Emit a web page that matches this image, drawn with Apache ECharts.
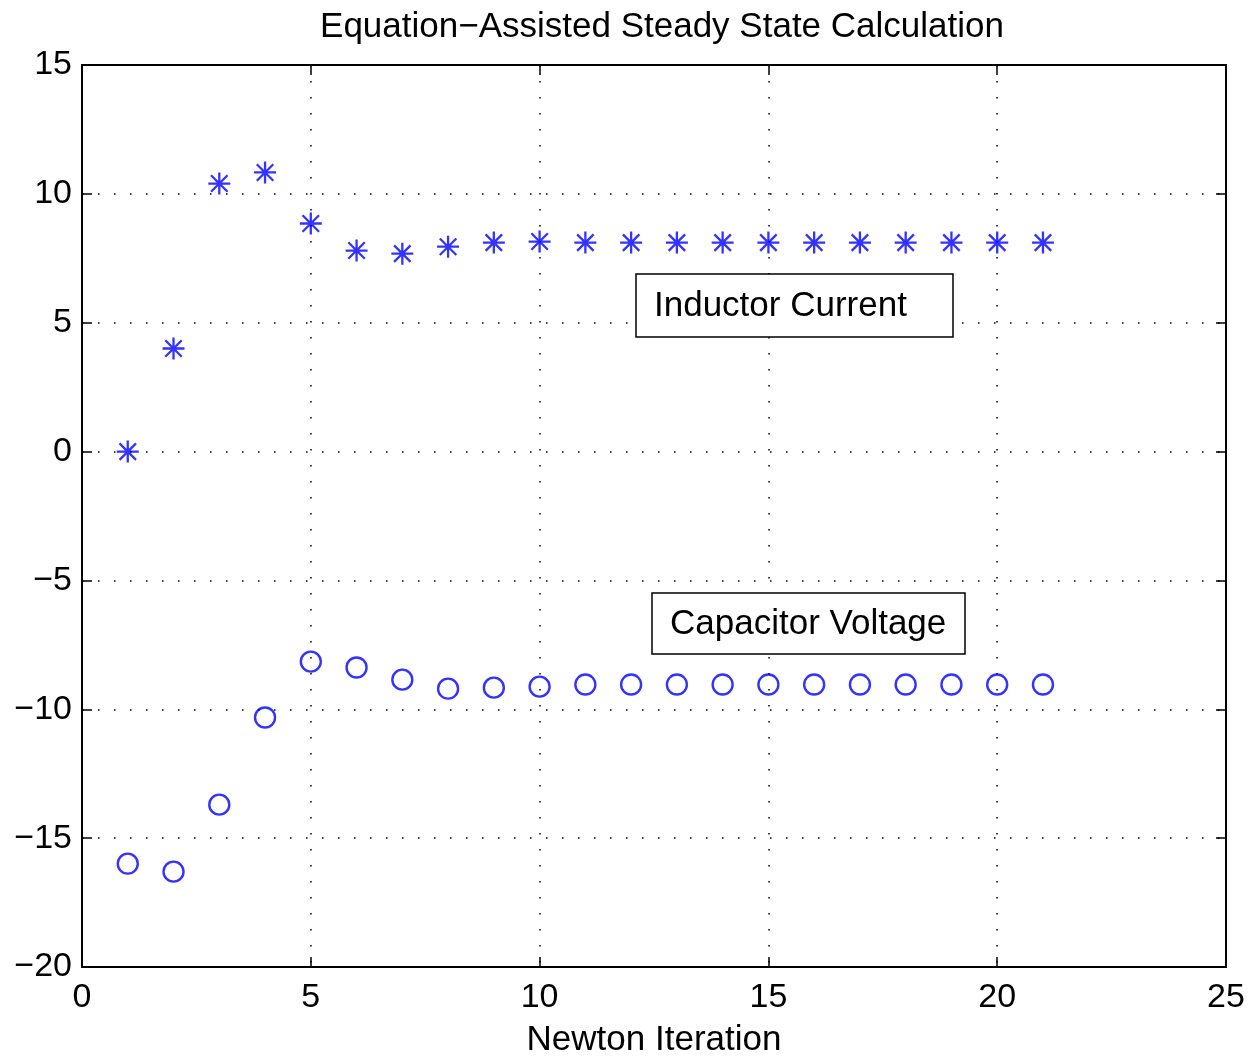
<!DOCTYPE html>
<html>
<head>
<meta charset="utf-8">
<script src="https://cdn.jsdelivr.net/npm/echarts@6/dist/echarts.min.js"></script>
<style>
html,body{margin:0;padding:0;background:#fff;overflow:hidden;}
#chart{width:1250px;height:1057px;}
</style>
</head>
<body>
<div id="chart"></div>
<script>
const iterations = [1,2,3,4,5,6,7,8,9,10,11,12,13,14,15,16,17,18,19,20,21];
const inductorCurrent = [0, 4.0, 10.4, 10.83, 8.85, 7.8, 7.68, 7.95, 8.11, 8.15, 8.11, 8.11, 8.11, 8.11, 8.11, 8.11, 8.11, 8.11, 8.11, 8.11, 8.11];
const capacitorVoltage = [-15.99, -16.3, -13.7, -10.32, -8.15, -8.38, -8.85, -9.2, -9.16, -9.12, -9.04, -9.04, -9.04, -9.04, -9.04, -9.04, -9.04, -9.04, -9.04, -9.04, -9.04];
const titleText = 'Equation\u2212Assisted Steady State Calculation';
const xLabel = 'Newton Iteration';
const labelInductor = 'Inductor Current';
const labelCapacitor = 'Capacitor Voltage';

const FONT = '"Liberation Sans", Arial, Helvetica, sans-serif';
const FS = 35;
const TFS = 34;
const blue = '#0000ff';
const fmt = v => String(v).replace('-', '\u2212');

const chart = echarts.init(document.getElementById('chart'), null, {renderer: 'canvas', width: 1250, height: 1057});
const axisLine = {show: true, onZero: false, lineStyle: {color: '#000', width: 2}};
const tick = {show: true, inside: true, length: 10, lineStyle: {color: '#000', width: 1.5}};
const dotted = {show: true, lineStyle: {color: '#000', width: 1.5, type: [1.5, 14.5]}};

chart.setOption({
  animation: false,
  backgroundColor: '#fff',
  title: {
    text: titleText, left: 657, top: 5, textAlign: 'center',
    textStyle: {fontFamily: FONT, fontSize: FS, fontWeight: 'normal', color: '#000'}
  },
  grid: {left: 82, right: 24, top: 65, bottom: 90, containLabel: false, outerBoundsMode: 'none'},
  xAxis: [{
    type: 'value', min: 0, max: 25, interval: 5, position: 'bottom',
    axisLine: axisLine, axisTick: tick, splitLine: dotted,
    axisLabel: {fontFamily: FONT, fontSize: TFS, color: '#000', margin: 14},
    name: xLabel, nameLocation: 'middle', nameGap: 56,
    nameTextStyle: {fontFamily: FONT, fontSize: FS, color: '#000'}
  }, {
    type: 'value', min: 0, max: 25, interval: 5, position: 'top',
    axisLine: axisLine, axisTick: tick, splitLine: {show: false}, axisLabel: {show: false}
  }],
  yAxis: [{
    type: 'value', min: -20, max: 15, interval: 5, position: 'left',
    axisLine: axisLine, axisTick: tick, splitLine: dotted,
    axisLabel: {fontFamily: FONT, fontSize: TFS, color: '#000', margin: 10, formatter: fmt}
  }, {
    type: 'value', min: -20, max: 15, interval: 5, position: 'right',
    axisLine: axisLine, axisTick: tick, splitLine: {show: false}, axisLabel: {show: false}
  }],
  series: [{
    name: labelInductor, type: 'scatter',
    data: iterations.map((x, i) => [x, inductorCurrent[i]]),
    symbol: 'path://M0,-10L0,10M-10,0L10,0M-7.5,-7.5L7.5,7.5M-7.5,7.5L7.5,-7.5',
    symbolSize: 22,
    itemStyle: {color: 'transparent', borderColor: blue, borderWidth: 2.3}
  }, {
    name: labelCapacitor, type: 'scatter',
    data: iterations.map((x, i) => [x, capacitorVoltage[i]]),
    symbol: 'circle', symbolSize: 20,
    itemStyle: {color: 'transparent', borderColor: blue, borderWidth: 2.4}
  }],
  graphic: [
    {type: 'rect', shape: {x: 636, y: 274, width: 317, height: 63},
     style: {fill: '#fff', stroke: '#000', lineWidth: 1.5}, z: 100},
    {type: 'text', x: 654, y: 306, z: 101,
     style: {text: labelInductor, font: FS + 'px ' + FONT, fill: '#000', textVerticalAlign: 'middle', verticalAlign: 'middle'}},
    {type: 'rect', shape: {x: 652, y: 593, width: 313, height: 61},
     style: {fill: '#fff', stroke: '#000', lineWidth: 1.5}, z: 100},
    {type: 'text', x: 670, y: 624, z: 101,
     style: {text: labelCapacitor, font: FS + 'px ' + FONT, fill: '#000', textVerticalAlign: 'middle', verticalAlign: 'middle'}}
  ]
});
</script>
</body>
</html>
